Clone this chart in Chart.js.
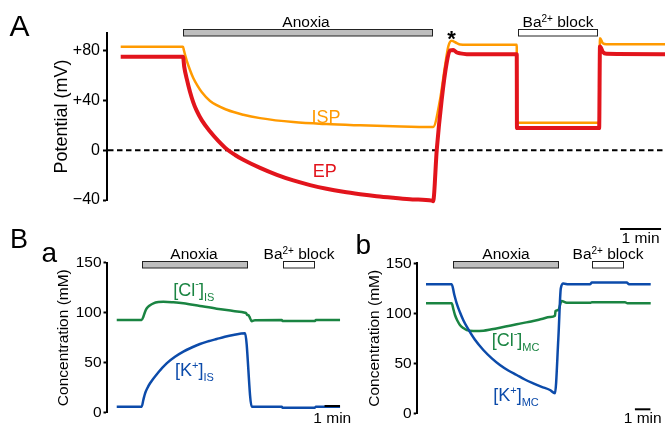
<!DOCTYPE html>
<html>
<head>
<meta charset="utf-8">
<script src="https://cdn.jsdelivr.net/npm/chart.js@4.4.1/dist/chart.umd.min.js"></script>
<style>
  html, body { margin: 0; padding: 0; background: #fff; }
  #wrap { position: relative; width: 665px; height: 428px; overflow: hidden; }
  canvas { position: absolute; left: 0; top: 0; }
</style>
</head>
<body>
<div id="wrap">
  <canvas id="panelA" width="665" height="428"></canvas>
  <canvas id="panelBa" width="665" height="428"></canvas>
  <canvas id="panelBb" width="665" height="428"></canvas>
</div>
<script>
// Panel A: potenciales (tiempo en min, mV)
const ispTime = [0, 1.52, 1.54, 1.58, 1.61, 1.69, 1.77, 1.88, 1.98, 2.18, 2.59, 2.99, 3.40, 4.21, 5.02, 5.84, 6.65, 7.59, 7.62, 7.79, 7.91, 7.99, 8.07, 8.20, 8.28, 8.44, 9.66, 9.665, 11.67, 11.69, 11.76, 11.85, 13.28];
const ispMv   = [83.2, 83.2, 80.5, 75.5, 72, 64.5, 58, 51.5, 46.5, 39.5, 32.5, 28.5, 25.8, 22.6, 21, 20, 19.2, 18.6, 18.6, 40.8, 67.5, 83.4, 88, 86, 85, 84.8, 84.8, 22.1, 22.1, 90, 86, 85.2, 85.2];
const epTime  = [0, 1.52, 1.55, 1.61, 1.69, 1.77, 1.85, 1.98, 2.18, 2.38, 2.59, 2.79, 2.99, 3.40, 3.81, 4.21, 4.62, 5.02, 5.43, 5.84, 6.24, 6.65, 7.12, 7.59, 7.62, 7.71, 7.83, 7.95, 8.03, 8.11, 8.20, 8.28, 8.44, 9.66, 9.665, 11.67, 11.69, 11.76, 11.85, 13.28];
const epMv    = [75.2, 75.2, 67, 57.5, 47, 38.5, 32, 24, 15, 7.5, 0.8, -3.8, -7.7, -14.2, -19.8, -24.3, -28, -31, -33.4, -35.3, -36.9, -38.2, -39.5, -40.5, -41, 0.8, 40.8, 70, 80.2, 80.5, 78.5, 77.8, 77.2, 77.2, 17.8, 17.8, 83.4, 79, 77.5, 77.2];
const potTicks = [-40, 0, 40, 80];
const potTickLabels = ['\u221240', '0', '+40', '+80'];
const aAnoxia = [1.53, 7.59];
const aBarium = [9.68, 11.61];
const aScaleBar = [12.18, 13.18];

// Panel Ba: espacio intraestrial (mM)
const baClTime = [0, 1.61, 1.72, 1.83, 1.94, 2.15, 2.37, 2.69, 3.01, 3.66, 4.30, 5.37, 6.45, 7.52, 8.28, 8.35, 8.43, 8.50, 8.56, 8.71, 8.92, 10.65, 10.70, 12.79, 12.85, 14.41];
const baCl     = [92.7, 92.7, 96, 101, 104.4, 107.5, 109.4, 110.6, 111, 110.4, 109.4, 106.7, 104, 101.7, 100, 99.5, 97.7, 97.5, 96, 91.5, 92.5, 92.7, 91.7, 91.7, 92.7, 92.7];
const baKTime  = [0, 1.61, 1.72, 1.83, 1.99, 2.15, 2.69, 3.22, 3.76, 4.30, 4.84, 5.37, 5.91, 6.45, 6.98, 7.52, 8.28, 8.71, 10.65, 10.70, 12.79, 12.85, 14.41];
const baK      = [6, 6, 13, 19.4, 25, 29.4, 40.5, 49.4, 56, 61.1, 65.2, 68.7, 71.4, 73.7, 75.9, 77.7, 79.4, 6, 6, 5, 5, 6, 6];
const baAnoxia = [1.61, 8.39];
const baBarium = [10.71, 12.75];
const baScaleBar = [13.41, 14.41];

// Panel Bb: células marginales (mM)
const bbKTime  = [0, 1.66, 1.82, 1.98, 2.19, 2.41, 2.63, 3.16, 3.70, 4.23, 4.77, 5.31, 5.85, 6.38, 6.92, 7.46, 8.0, 8.32, 8.54, 8.70, 8.86, 9.2, 10.58, 10.70, 12.95, 13.10, 14.5];
const bbK      = [129, 129, 119, 110, 101, 93, 86.6, 73.5, 63.3, 55.2, 48.3, 42.8, 38.3, 33.8, 30, 26.5, 23.3, 20, 75, 125, 129.7, 129, 129, 130.7, 130.7, 129, 129];
const bbClTime = [0, 1.66, 1.77, 1.87, 2.03, 2.19, 2.41, 2.63, 3.05, 3.70, 4.23, 4.77, 5.31, 5.85, 6.38, 6.92, 7.46, 8.0, 8.32, 8.36, 8.54, 8.75, 9.08, 10.58, 10.70, 12.84, 13.0, 14.5];
const bbCl     = [110, 110, 104, 98.3, 92.5, 88.3, 85.3, 83.3, 82.3, 82.6, 84, 85.6, 87.3, 89, 90.7, 92.3, 94.3, 96.3, 97.6, 102.3, 103.3, 112.3, 110.6, 110.5, 111, 111, 110, 110];
const bbAnoxia = [1.76, 8.50];
const bbBarium = [10.69, 12.73];
const bbScaleBar = [13.48, 14.48];

const concTicks = [0, 50, 100, 150];
const concTickLabels = ['0', '50', '100', '150'];

const FONT = '"Liberation Sans", Arial, Helvetica, sans-serif';
const ORANGE = '#FF9A00', RED = '#E2141C', GREEN = '#1A8442', BLUE = '#0C4BAA';

function pts(xs, ys) { return xs.map((x, i) => ({ x: x, y: ys[i] })); }

function txt(ctx, s, x, y, size, color, align, weight) {
    ctx.font = (weight ? weight + ' ' : '') + size + 'px ' + FONT;
    ctx.fillStyle = color || '#000';
    ctx.textAlign = align || 'left';
    ctx.textBaseline = 'alphabetic';
    ctx.fillText(s, x, y);
}

// texto con super/subíndices: partes [texto, tamaño, dy]
function rich(ctx, parts, x, y, color, align) {
    ctx.textBaseline = 'alphabetic';
    ctx.textAlign = 'left';
    ctx.fillStyle = color;
    let w = 0;
    const ws = parts.map(p => { ctx.font = p[1] + 'px ' + FONT; const m = ctx.measureText(p[0]).width; w += m; return m; });
    let cx = align === 'center' ? x - w / 2 : x;
    parts.forEach((p, i) => { ctx.font = p[1] + 'px ' + FONT; ctx.fillText(p[0], cx, y + p[2]); cx += ws[i]; });
}

function bar(ctx, xs, range, y, h, fill) {
    const x1 = Math.round(xs.getPixelForValue(range[0])) + 0.5;
    const x2 = Math.round(xs.getPixelForValue(range[1])) + 0.5;
    ctx.fillStyle = fill;
    ctx.fillRect(x1, y, x2 - x1, h);
    ctx.strokeStyle = '#222';
    ctx.lineWidth = 1;
    ctx.strokeRect(x1, y, x2 - x1, h);
    return (x1 + x2) / 2;
}

function scaleBar(ctx, xs, range, y, textY) {
    const x1 = xs.getPixelForValue(range[0]), x2 = xs.getPixelForValue(range[1]);
    ctx.strokeStyle = '#000';
    ctx.lineWidth = 2;
    ctx.beginPath();
    ctx.moveTo(x1, y);
    ctx.lineTo(x2, y);
    ctx.stroke();
    txt(ctx, '1 min', (x1 + x2) / 2, textY, 15.5, '#000', 'center');
}

function barLabel(ctx, cx, y) {
    rich(ctx, [['Ba', 15.5, 0], ['2+', 10, -5], [' block', 15.5, 0]], cx, y, '#000', 'center');
}

function panel(id, cfg) {
    return new Chart(document.getElementById(id), {
        type: 'line',
        data: { datasets: cfg.datasets },
        options: {
            responsive: false,
            animation: false,
            events: [],
            layout: { padding: cfg.padding },
            plugins: { legend: { display: false }, tooltip: { enabled: false } },
            elements: {
                point: { radius: 0 },
                line: { cubicInterpolationMode: 'monotone', borderJoinStyle: 'round', borderCapStyle: 'butt' }
            },
            scales: {
                x: { type: 'linear', display: false, min: cfg.xMin, max: cfg.xMax },
                y: {
                    type: 'linear',
                    min: cfg.yMin,
                    max: cfg.yMax,
                    afterFit: function(s) { s.width = cfg.axisWidth; },
                    afterBuildTicks: function(s) { s.ticks = cfg.ticks.map(v => ({ value: v })); },
                    ticks: {
                        callback: (v, i) => cfg.tickLabels[i],
                        font: { family: FONT, size: cfg.tickSize },
                        color: '#000',
                        padding: cfg.tickPad,
                        autoSkip: false
                    },
                    grid: { drawOnChartArea: false, drawTicks: true, tickLength: cfg.tickLength, tickColor: '#000', tickWidth: 2 },
                    border: { display: true, color: '#000', width: 2 },
                    title: {
                        display: true,
                        text: cfg.title,
                        font: { family: FONT, size: cfg.titleSize },
                        color: '#000',
                        padding: { top: cfg.titlePad, bottom: 0 }
                    }
                }
            }
        },
        plugins: [cfg.plugin]
    });
}

// Panel A
panel('panelA', {
    datasets: [
        { data: pts(epTime, epMv), borderColor: RED, borderWidth: 4, order: 0, clip: false },
        { data: pts(ispTime, ispMv), borderColor: ORANGE, borderWidth: 2.5, order: 1, clip: false }
    ],
    padding: { left: 0, top: 33, right: 0, bottom: 228 },
    xMin: -0.334, xMax: 13.276, yMin: -40, yMax: 94.2,
    axisWidth: 107, ticks: potTicks, tickLabels: potTickLabels,
    tickSize: 16, tickPad: 3, tickLength: 4,
    title: 'Potential (mV)', titleSize: 18, titlePad: 50.9,
    plugin: {
        id: 'notasA',
        beforeDatasetsDraw(chart) {
            const { ctx, chartArea, scales: { y } } = chart;
            const y0 = y.getPixelForValue(0);
            ctx.save();
            ctx.setLineDash([5.5, 3.5]);
            ctx.strokeStyle = '#000';
            ctx.lineWidth = 2;
            ctx.beginPath();
            ctx.moveTo(chartArea.left + 1, y0);
            ctx.lineTo(chartArea.right, y0);
            ctx.stroke();
            ctx.restore();
        },
        afterDraw(chart) {
            const { ctx, scales: { x, y } } = chart;
            ctx.save();
            txt(ctx, 'A', 9.5, 36, 30);
            const c1 = bar(ctx, x, aAnoxia, 29.5, 6.5, '#BEBEBE');
            txt(ctx, 'Anoxia', c1 - 2, 27, 15.5, '#000', 'center');
            const c2 = bar(ctx, x, aBarium, 29.5, 6.5, '#FFFFFF');
            barLabel(ctx, c2, 27);
            txt(ctx, '*', x.getPixelForValue(8.07), 45.5, 22, '#000', 'center', 'bold');
            txt(ctx, 'ISP', x.getPixelForValue(5.01), y.getPixelForValue(21.6), 18, ORANGE, 'center');
            txt(ctx, 'EP', x.getPixelForValue(4.98), y.getPixelForValue(-21.3), 18, RED, 'center');
            scaleBar(ctx, x, aScaleBar, 229, 242.5);
            ctx.restore();
        }
    }
});

// Panel Ba
panel('panelBa', {
    datasets: [
        { data: pts(baKTime, baK), borderColor: BLUE, borderWidth: 2.5, order: 0 },
        { data: pts(baClTime, baCl), borderColor: GREEN, borderWidth: 2.5, order: 1 }
    ],
    padding: { left: 0, top: 262.7, right: 320, bottom: 15.3 },
    xMin: -0.66, xMax: 14.73, yMin: 0, yMax: 150,
    axisWidth: 106.5, ticks: concTicks, tickLabels: concTickLabels,
    tickSize: 15.5, tickPad: 2, tickLength: 3,
    title: 'Concentration (mM)', titleSize: 15.5, titlePad: 54.9,
    plugin: {
        id: 'notasBa',
        afterDraw(chart) {
            const { ctx, scales: { x, y } } = chart;
            ctx.save();
            txt(ctx, 'B', 10, 248.3, 27);
            txt(ctx, 'a', 41.5, 262.3, 28);
            const c1 = bar(ctx, x, baAnoxia, 261.5, 6.5, '#BEBEBE');
            txt(ctx, 'Anoxia', c1 - 1, 258.5, 15.5, '#000', 'center');
            const c2 = bar(ctx, x, baBarium, 261.5, 6.5, '#FFFFFF');
            barLabel(ctx, c2, 258.5);
            rich(ctx, [['[Cl', 18, 0], ['-', 11, -9], [']', 18, 0], ['IS', 11, 5]], x.getPixelForValue(3.65), y.getPixelForValue(117), GREEN);
            rich(ctx, [['[K', 18, 0], ['+', 11, -7], [']', 18, 0], ['IS', 11, 5]], x.getPixelForValue(3.76), y.getPixelForValue(36.7), BLUE);
            scaleBar(ctx, x, baScaleBar, 406, 423.3);
            ctx.restore();
        }
    }
});

// Panel Bb
panel('panelBb', {
    datasets: [
        { data: pts(bbKTime, bbK), borderColor: BLUE, borderWidth: 2.5, order: 0 },
        { data: pts(bbClTime, bbCl), borderColor: GREEN, borderWidth: 2.5, order: 1 }
    ],
    padding: { left: 350, top: 263.3, right: 7, bottom: 14.7 },
    xMin: -0.6, xMax: 14.97, yMin: 0, yMax: 150,
    axisWidth: 66.7, ticks: concTicks, tickLabels: concTickLabels,
    tickSize: 15.5, tickPad: 2, tickLength: 3,
    title: 'Concentration (mM)', titleSize: 15.5, titlePad: 15.7,
    plugin: {
        id: 'notasBb',
        afterDraw(chart) {
            const { ctx, scales: { x, y } } = chart;
            ctx.save();
            txt(ctx, 'b', 355.5, 254.3, 28);
            const c1 = bar(ctx, x, bbAnoxia, 261.5, 6.5, '#BEBEBE');
            txt(ctx, 'Anoxia', c1, 259, 15.5, '#000', 'center');
            const c2 = bar(ctx, x, bbBarium, 261.5, 6.5, '#FFFFFF');
            barLabel(ctx, c2, 259);
            rich(ctx, [['[Cl', 18, 0], ['-', 11, -9], [']', 18, 0], ['MC', 11, 5]], x.getPixelForValue(4.24), y.getPixelForValue(67.8), GREEN);
            rich(ctx, [['[K', 18, 0], ['+', 11, -7], [']', 18, 0], ['MC', 11, 5]], x.getPixelForValue(4.34), y.getPixelForValue(12.8), BLUE);
            scaleBar(ctx, x, bbScaleBar, 409.3, 423.3);
            ctx.restore();
        }
    }
});
</script>
</body>
</html>
